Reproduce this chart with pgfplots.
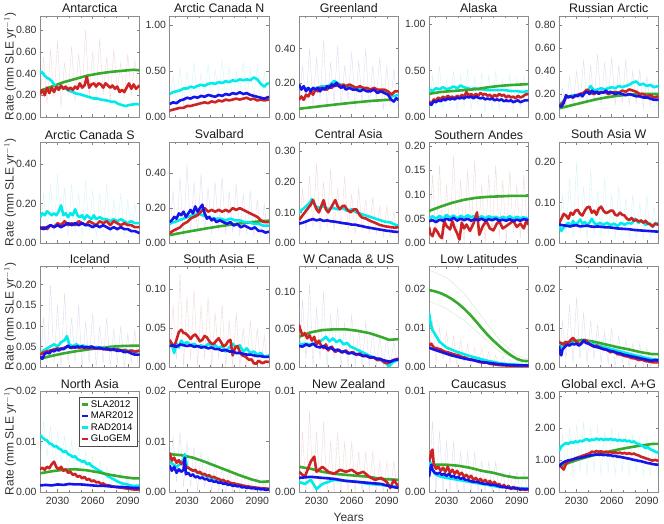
\documentclass[border=0pt]{standalone}
\usepackage{fontspec}
\setmainfont{Liberation Sans}
\usepackage{pgfplots}
\pgfplotsset{compat=1.18}
\definecolor{cSLA}{RGB}{55,170,45}
\definecolor{cMAR}{RGB}{20,20,235}
\definecolor{cRAD}{RGB}{0,235,235}
\definecolor{cGLO}{RGB}{205,35,35}
\definecolor{fBlue}{RGB}{120,130,190}
\definecolor{fRed}{RGB}{200,110,110}
\definecolor{fCyan}{RGB}{90,210,220}
\newcommand{\pSLA}[1]{\addplot[cSLA,line width=2.6pt,line join=round,forget plot] coordinates {#1};}
\newcommand{\pMAR}[1]{\addplot[cMAR,line width=2.6pt,line join=round,forget plot] coordinates {#1};}
\newcommand{\pRAD}[1]{\addplot[cRAD,line width=2.6pt,line join=round,forget plot] coordinates {#1};}
\newcommand{\pGLO}[1]{\addplot[cGLO,line width=2.6pt,line join=round,forget plot] coordinates {#1};}
\newcommand{\pF}[2]{\addplot[#1,opacity=0.25,line width=0.4pt,forget plot] coordinates {#2};}
\pgfplotsset{
 panel/.style={scale only axis, width=99.5pt, height=101pt, anchor=north west,
  xmin=2015, xmax=2100, ymin=0,
  xtick={2030,2060,2090}, minor xtick={2020,2040,2050,2070,2080,2100}, xticklabels={},
  tick align=inside, major tick length=3pt, minor tick length=2pt,
  axis line style={draw=black!45, line width=0.6pt},
  every tick/.style={black!50, line width=0.5pt},
  tick label style={font=\fontsize{10.5}{12}\selectfont, text=black!80},
  yticklabel style={/pgf/number format/.cd, fixed, fixed zerofill, precision=2},
  /pgf/number format/assume math mode=true, scaled y ticks=false,
  title style={at={(0.5,1)}, anchor=base, yshift=-3pt, font=\fontsize{12.4}{14}\selectfont, inner sep=0pt, text=black!90}},
 bottomrow/.style={xticklabels={2030,2060,2090}, xticklabel style={yshift=-1.5pt}},
 firstcol/.style={ylabel={Rate (mm SLE yr$^{-1}$)}, ylabel style={at={(axis description cs:-0.30,0.5)}, anchor=center, font=\fontsize{12}{14}\selectfont, text=black!80}},
}
\begin{document}
\begin{tikzpicture}
\path[use as bounding box] (0,0) rectangle (664pt,-524pt);
% ---------------- Row 1
\begin{axis}[panel, firstcol, at={(40pt,-16pt)}, title={Antarctica}, ymax=0.93, ytick={0,0.2,0.4,0.6,0.8}]
\pF{fRed}{(2015,0.15)(2018,0.55)(2021,0.12)(2024,0.62)(2027,0.18)(2030,0.70)(2033,0.10)(2036,0.50)(2039,0.20)(2042,0.65)(2045,0.15)(2048,0.58)(2051,0.25)(2054,0.80)(2057,0.18)(2060,0.60)(2063,0.22)(2066,0.72)(2069,0.20)(2072,0.55)(2075,0.15)(2078,0.62)(2081,0.25)(2084,0.50)(2087,0.18)(2090,0.58)(2093,0.20)(2096,0.52)(2099,0.22)}
\pSLA{(2015,0.24)(2025,0.28)(2035,0.32)(2045,0.35)(2055,0.38)(2065,0.40)(2075,0.415)(2085,0.425)(2095,0.435)(2100,0.43)}
\pRAD{(2015,0.42)(2017,0.41)(2019,0.38)(2021,0.36)(2023,0.35)(2025,0.33)(2027,0.30)(2029,0.28)(2031,0.27)(2034,0.27)(2037,0.26)(2040,0.24)(2043,0.23)(2046,0.215)(2049,0.21)(2052,0.20)(2055,0.19)(2058,0.18)(2061,0.17)(2064,0.17)(2067,0.16)(2070,0.155)(2073,0.15)(2076,0.14)(2079,0.14)(2082,0.12)(2085,0.11)(2088,0.10)(2091,0.11)(2094,0.115)(2097,0.12)(2100,0.115)}
\pGLO{(2015,0.21)(2017,0.25)(2019,0.20)(2021,0.27)(2023,0.22)(2025,0.27)(2027,0.23)(2029,0.28)(2031,0.25)(2033,0.29)(2035,0.26)(2037,0.28)(2039,0.25)(2041,0.27)(2043,0.25)(2045,0.28)(2047,0.26)(2049,0.31)(2051,0.27)(2053,0.29)(2055,0.37)(2057,0.27)(2059,0.30)(2061,0.31)(2063,0.28)(2065,0.31)(2067,0.30)(2069,0.27)(2071,0.31)(2073,0.29)(2075,0.27)(2077,0.29)(2079,0.26)(2081,0.28)(2083,0.23)(2085,0.25)(2087,0.23)(2089,0.27)(2091,0.31)(2093,0.26)(2095,0.30)(2097,0.26)(2100,0.29)}
\end{axis}
\begin{axis}[panel, at={(169.5pt,-16pt)}, title={Arctic Canada N}, ymax=1.1, ytick={0,0.5,1}]
\pF{fCyan}{(2015,0.10)(2018,0.45)(2021,0.15)(2024,0.55)(2027,0.12)(2030,0.50)(2033,0.20)(2036,0.60)(2039,0.15)(2042,0.48)(2045,0.22)(2048,0.58)(2051,0.18)(2054,0.52)(2057,0.25)(2060,0.62)(2063,0.20)(2066,0.55)(2069,0.15)(2072,0.50)(2075,0.25)(2078,0.60)(2081,0.18)(2084,0.52)(2087,0.22)(2090,0.55)(2093,0.15)(2096,0.48)(2099,0.25)}
\pRAD{(2015,0.25)(2018,0.27)(2021,0.28)(2024,0.29)(2027,0.31)(2030,0.31)(2033,0.33)(2036,0.32)(2039,0.34)(2042,0.35)(2045,0.34)(2048,0.36)(2051,0.37)(2054,0.36)(2057,0.38)(2060,0.37)(2063,0.39)(2066,0.38)(2069,0.40)(2072,0.39)(2075,0.41)(2078,0.40)(2081,0.41)(2084,0.40)(2087,0.43)(2090,0.41)(2093,0.36)(2096,0.33)(2098,0.36)(2100,0.37)}
\pGLO{(2015,0.07)(2018,0.08)(2021,0.09)(2024,0.10)(2027,0.10)(2030,0.12)(2033,0.12)(2036,0.13)(2039,0.14)(2042,0.15)(2045,0.16)(2048,0.15)(2051,0.17)(2054,0.16)(2057,0.18)(2060,0.17)(2063,0.19)(2066,0.18)(2069,0.19)(2072,0.20)(2075,0.19)(2078,0.20)(2081,0.21)(2084,0.19)(2087,0.20)(2090,0.18)(2093,0.19)(2096,0.18)(2100,0.19)}
\pMAR{(2015,0.14)(2018,0.16)(2021,0.15)(2024,0.18)(2027,0.19)(2030,0.21)(2033,0.20)(2036,0.22)(2039,0.21)(2042,0.23)(2045,0.22)(2048,0.24)(2051,0.23)(2054,0.22)(2057,0.24)(2060,0.23)(2063,0.25)(2066,0.24)(2069,0.26)(2072,0.25)(2075,0.27)(2078,0.25)(2081,0.26)(2084,0.24)(2087,0.23)(2090,0.22)(2093,0.21)(2096,0.20)(2100,0.22)}
\end{axis}
\begin{axis}[panel, at={(299pt,-16pt)}, title={Greenland}, ymax=0.59, ytick={0,0.2,0.4}]
\pF{fBlue}{(2015,0.05)(2018,0.30)(2021,0.08)(2024,0.40)(2027,0.06)(2030,0.35)(2033,0.10)(2036,0.45)(2039,0.05)(2042,0.32)(2045,0.08)(2048,0.42)(2051,0.06)(2054,0.30)(2057,0.10)(2060,0.38)(2063,0.05)(2066,0.33)(2069,0.08)(2072,0.40)(2075,0.06)(2078,0.30)(2081,0.10)(2084,0.35)(2087,0.04)(2090,0.30)(2093,0.06)(2096,0.28)(2099,0.05)}
\pSLA{(2015,0.048)(2030,0.060)(2045,0.072)(2060,0.083)(2075,0.093)(2090,0.100)(2093,0.101)}
\pRAD{(2015,0.17)(2020,0.17)(2025,0.16)(2030,0.17)(2035,0.18)(2040,0.18)(2045,0.21)(2050,0.19)(2055,0.18)(2060,0.17)(2065,0.17)(2070,0.16)(2075,0.16)(2080,0.16)(2085,0.15)(2090,0.15)(2095,0.12)(2100,0.13)}
\pGLO{(2015,0.10)(2017,0.12)(2019,0.10)(2021,0.13)(2023,0.12)(2025,0.15)(2027,0.13)(2029,0.16)(2031,0.15)(2033,0.17)(2035,0.16)(2037,0.17)(2039,0.16)(2041,0.18)(2043,0.17)(2045,0.19)(2047,0.18)(2049,0.19)(2051,0.18)(2053,0.19)(2055,0.18)(2058,0.19)(2061,0.18)(2064,0.17)(2067,0.18)(2070,0.17)(2073,0.17)(2076,0.16)(2079,0.17)(2082,0.16)(2085,0.16)(2088,0.16)(2091,0.15)(2094,0.13)(2097,0.15)(2100,0.15)}
\pMAR{(2015,0.19)(2017,0.16)(2019,0.18)(2021,0.15)(2023,0.17)(2025,0.15)(2027,0.17)(2029,0.16)(2031,0.17)(2033,0.15)(2035,0.17)(2037,0.16)(2039,0.18)(2041,0.17)(2043,0.19)(2045,0.18)(2047,0.20)(2049,0.18)(2051,0.17)(2053,0.18)(2055,0.16)(2058,0.17)(2061,0.16)(2064,0.16)(2067,0.15)(2070,0.16)(2073,0.15)(2076,0.15)(2079,0.16)(2082,0.14)(2085,0.15)(2088,0.14)(2091,0.13)(2094,0.10)(2096,0.09)(2098,0.11)(2100,0.10)}
\end{axis}
\begin{axis}[panel, at={(429pt,-16pt)}, title={Alaska}, ymax=1.09, ytick={0,0.5,1}]
\pF{fCyan}{(2015,0.05)(2018,0.45)(2021,0.10)(2024,0.55)(2027,0.08)(2030,0.40)(2033,0.12)(2036,0.50)(2039,0.06)(2042,0.45)(2045,0.10)(2048,0.52)(2051,0.08)(2054,0.42)(2057,0.12)(2060,0.48)(2063,0.05)(2066,0.45)(2069,0.10)(2072,0.50)(2075,0.08)(2078,0.40)(2081,0.12)(2084,0.46)(2087,0.06)(2090,0.42)(2093,0.10)(2096,0.44)(2099,0.08)}
\pRAD{(2015,0.30)(2018,0.28)(2021,0.31)(2024,0.30)(2027,0.32)(2030,0.30)(2033,0.31)(2036,0.33)(2039,0.31)(2042,0.34)(2045,0.32)(2048,0.31)(2051,0.30)(2054,0.31)(2057,0.30)(2060,0.30)(2065,0.29)(2070,0.29)(2075,0.29)(2080,0.29)(2085,0.28)(2090,0.28)(2095,0.27)(2100,0.28)}
\pSLA{(2015,0.25)(2025,0.27)(2035,0.28)(2045,0.29)(2055,0.30)(2065,0.32)(2075,0.335)(2085,0.345)(2100,0.355)}
\pGLO{(2015,0.17)(2017,0.14)(2019,0.19)(2021,0.18)(2023,0.21)(2025,0.19)(2027,0.22)(2029,0.20)(2031,0.23)(2033,0.21)(2035,0.22)(2037,0.20)(2039,0.23)(2041,0.21)(2043,0.24)(2045,0.22)(2047,0.27)(2049,0.23)(2051,0.25)(2053,0.22)(2055,0.25)(2057,0.23)(2059,0.26)(2061,0.24)(2063,0.25)(2065,0.23)(2067,0.24)(2069,0.21)(2071,0.24)(2073,0.22)(2075,0.25)(2077,0.23)(2079,0.24)(2081,0.21)(2083,0.23)(2085,0.21)(2087,0.22)(2089,0.20)(2091,0.23)(2093,0.21)(2095,0.22)(2097,0.24)(2100,0.25)}
\pMAR{(2015,0.15)(2017,0.13)(2019,0.17)(2021,0.16)(2023,0.18)(2025,0.17)(2027,0.19)(2029,0.18)(2031,0.20)(2033,0.19)(2035,0.20)(2037,0.19)(2039,0.21)(2041,0.20)(2043,0.21)(2045,0.20)(2047,0.22)(2049,0.21)(2051,0.22)(2053,0.20)(2055,0.22)(2057,0.21)(2059,0.20)(2061,0.21)(2063,0.19)(2065,0.20)(2067,0.19)(2069,0.20)(2071,0.18)(2073,0.19)(2075,0.18)(2077,0.19)(2079,0.17)(2081,0.18)(2083,0.17)(2085,0.18)(2087,0.16)(2089,0.17)(2091,0.18)(2093,0.16)(2095,0.17)(2097,0.18)(2100,0.18)}
\end{axis}
\begin{axis}[panel, at={(559pt,-16pt)}, title={Russian Arctic}, ymax=0.88, ytick={0,0.2,0.4,0.6,0.8}]
\pF{fBlue}{(2015,0.05)(2018,0.25)(2021,0.08)(2024,0.35)(2027,0.10)(2030,0.40)(2033,0.12)(2036,0.50)(2039,0.10)(2042,0.45)(2045,0.12)(2048,0.55)(2051,0.10)(2054,0.48)(2057,0.15)(2060,0.52)(2063,0.10)(2066,0.45)(2069,0.12)(2072,0.50)(2075,0.10)(2078,0.40)(2081,0.12)(2084,0.42)(2087,0.08)(2090,0.35)(2093,0.10)(2096,0.30)(2099,0.08)}
\pSLA{(2015,0.075)(2025,0.10)(2035,0.125)(2045,0.15)(2055,0.17)(2065,0.185)(2075,0.195)(2085,0.20)(2100,0.20)}
\pRAD{(2015,0.10)(2018,0.13)(2021,0.17)(2024,0.18)(2027,0.19)(2030,0.19)(2033,0.20)(2036,0.20)(2039,0.22)(2042,0.27)(2045,0.23)(2048,0.24)(2051,0.25)(2054,0.24)(2057,0.25)(2060,0.26)(2063,0.25)(2066,0.27)(2069,0.26)(2072,0.27)(2075,0.28)(2078,0.30)(2081,0.31)(2084,0.28)(2087,0.29)(2090,0.27)(2093,0.28)(2096,0.26)(2100,0.27)}
\pGLO{(2015,0.10)(2018,0.12)(2021,0.17)(2024,0.18)(2027,0.17)(2030,0.19)(2033,0.20)(2036,0.21)(2039,0.24)(2042,0.21)(2045,0.20)(2048,0.22)(2051,0.21)(2054,0.22)(2057,0.20)(2060,0.21)(2063,0.22)(2066,0.21)(2069,0.23)(2072,0.22)(2075,0.24)(2078,0.23)(2081,0.22)(2084,0.20)(2087,0.20)(2090,0.18)(2093,0.19)(2096,0.17)(2100,0.18)}
\pMAR{(2015,0.10)(2017,0.09)(2019,0.12)(2021,0.19)(2023,0.17)(2025,0.18)(2027,0.17)(2029,0.19)(2031,0.18)(2033,0.20)(2035,0.18)(2037,0.21)(2039,0.22)(2041,0.20)(2043,0.23)(2045,0.21)(2047,0.22)(2049,0.20)(2051,0.22)(2053,0.21)(2055,0.23)(2057,0.21)(2059,0.22)(2061,0.21)(2063,0.20)(2066,0.21)(2069,0.20)(2072,0.19)(2075,0.20)(2078,0.19)(2081,0.18)(2084,0.18)(2087,0.17)(2090,0.17)(2093,0.16)(2096,0.15)(2100,0.15)}
\end{axis}
% ---------------- Row 2
\begin{axis}[panel, firstcol, at={(40pt,-142pt)}, title={Arctic Canada S}, ymax=0.51, ytick={0,0.2,0.4}]
\pF{fCyan}{(2015,0.03)(2018,0.25)(2021,0.05)(2024,0.30)(2027,0.04)(2030,0.35)(2033,0.06)(2036,0.28)(2039,0.03)(2042,0.30)(2045,0.05)(2048,0.25)(2051,0.04)(2054,0.32)(2057,0.05)(2060,0.27)(2063,0.03)(2066,0.25)(2069,0.05)(2072,0.30)(2075,0.04)(2078,0.22)(2081,0.05)(2084,0.25)(2087,0.03)(2090,0.22)(2093,0.04)(2096,0.20)(2099,0.03)}
\pRAD{(2015,0.13)(2017,0.15)(2019,0.14)(2021,0.16)(2023,0.15)(2025,0.14)(2027,0.15)(2029,0.14)(2031,0.16)(2033,0.19)(2035,0.14)(2037,0.15)(2039,0.13)(2041,0.15)(2043,0.14)(2045,0.17)(2047,0.14)(2049,0.13)(2051,0.14)(2053,0.12)(2055,0.14)(2057,0.13)(2059,0.12)(2061,0.14)(2063,0.12)(2066,0.13)(2069,0.12)(2072,0.12)(2075,0.11)(2078,0.12)(2081,0.11)(2084,0.12)(2087,0.11)(2090,0.10)(2093,0.11)(2096,0.10)(2100,0.10)}
\pGLO{(2015,0.07)(2018,0.08)(2021,0.07)(2024,0.09)(2027,0.08)(2030,0.10)(2033,0.09)(2036,0.11)(2039,0.09)(2042,0.10)(2045,0.09)(2048,0.11)(2051,0.10)(2054,0.09)(2057,0.11)(2060,0.10)(2063,0.09)(2066,0.11)(2069,0.10)(2072,0.11)(2075,0.09)(2078,0.11)(2081,0.10)(2084,0.09)(2087,0.10)(2090,0.09)(2093,0.09)(2096,0.08)(2100,0.08)}
\pMAR{(2015,0.08)(2018,0.07)(2021,0.08)(2024,0.09)(2027,0.08)(2030,0.09)(2033,0.08)(2036,0.09)(2039,0.10)(2042,0.09)(2045,0.10)(2048,0.09)(2051,0.10)(2054,0.09)(2057,0.09)(2060,0.08)(2063,0.09)(2066,0.08)(2069,0.09)(2072,0.08)(2075,0.07)(2078,0.08)(2081,0.07)(2084,0.08)(2087,0.07)(2090,0.07)(2093,0.06)(2096,0.06)(2100,0.05)}
\end{axis}
\begin{axis}[panel, at={(169.5pt,-142pt)}, title={Svalbard}, ymax=0.58, ytick={0,0.2,0.4}]
\pF{fBlue}{(2015,0.02)(2018,0.30)(2021,0.05)(2024,0.38)(2027,0.04)(2030,0.45)(2033,0.06)(2036,0.35)(2039,0.05)(2042,0.40)(2045,0.06)(2048,0.32)(2051,0.05)(2054,0.35)(2057,0.07)(2060,0.38)(2063,0.05)(2066,0.30)(2069,0.06)(2072,0.34)(2075,0.04)(2078,0.28)(2081,0.05)(2084,0.30)(2087,0.04)(2090,0.25)(2093,0.04)(2096,0.22)(2099,0.03)}
\pSLA{(2015,0.045)(2025,0.058)(2035,0.07)(2045,0.082)(2055,0.093)(2065,0.103)(2075,0.112)(2085,0.12)(2095,0.126)(2100,0.128)}
\pRAD{(2015,0.11)(2019,0.12)(2023,0.13)(2027,0.14)(2031,0.15)(2035,0.16)(2039,0.17)(2043,0.16)(2047,0.15)(2051,0.14)(2055,0.14)(2059,0.14)(2063,0.13)(2067,0.14)(2071,0.13)(2075,0.13)(2079,0.12)(2083,0.12)(2087,0.11)(2091,0.11)(2095,0.10)(2100,0.10)}
\pGLO{(2015,0.055)(2018,0.07)(2021,0.08)(2024,0.09)(2027,0.11)(2030,0.12)(2033,0.14)(2036,0.15)(2039,0.16)(2042,0.18)(2045,0.20)(2048,0.18)(2051,0.19)(2054,0.18)(2057,0.19)(2060,0.18)(2063,0.19)(2066,0.18)(2069,0.20)(2072,0.19)(2075,0.20)(2078,0.19)(2081,0.18)(2084,0.17)(2087,0.16)(2090,0.15)(2093,0.13)(2096,0.12)(2100,0.12)}
\pMAR{(2015,0.12)(2017,0.13)(2019,0.15)(2021,0.14)(2023,0.17)(2025,0.16)(2027,0.18)(2029,0.15)(2031,0.17)(2033,0.19)(2035,0.17)(2037,0.21)(2039,0.18)(2041,0.20)(2043,0.22)(2045,0.17)(2047,0.14)(2049,0.15)(2051,0.13)(2053,0.14)(2055,0.12)(2058,0.13)(2061,0.12)(2064,0.11)(2067,0.12)(2070,0.10)(2073,0.11)(2076,0.09)(2079,0.10)(2082,0.09)(2085,0.08)(2088,0.09)(2091,0.07)(2094,0.07)(2097,0.06)(2100,0.065)}
\end{axis}
\begin{axis}[panel, at={(299pt,-142pt)}, title={Central Asia}, ymax=0.33, ytick={0,0.1,0.2,0.3}]
\pF{fRed}{(2015,0.03)(2018,0.18)(2021,0.04)(2024,0.22)(2027,0.05)(2030,0.26)(2033,0.04)(2036,0.20)(2039,0.05)(2042,0.24)(2045,0.04)(2048,0.18)(2051,0.05)(2054,0.22)(2057,0.04)(2060,0.16)(2063,0.03)(2066,0.18)(2069,0.04)(2072,0.14)(2075,0.03)(2078,0.15)(2081,0.03)(2084,0.12)(2087,0.02)(2090,0.12)(2093,0.02)(2096,0.10)(2099,0.02)}
\pRAD{(2015,0.10)(2018,0.11)(2021,0.12)(2024,0.13)(2026,0.144)(2029,0.12)(2032,0.115)(2036,0.12)(2040,0.11)(2044,0.115)(2048,0.11)(2052,0.115)(2056,0.105)(2060,0.11)(2064,0.10)(2068,0.095)(2072,0.09)(2076,0.085)(2080,0.08)(2084,0.075)(2088,0.07)(2093,0.067)(2097,0.06)(2100,0.056)}
\pGLO{(2015,0.075)(2018,0.09)(2022,0.11)(2025,0.125)(2027,0.14)(2030,0.11)(2032,0.10)(2034,0.12)(2036,0.14)(2038,0.11)(2040,0.10)(2043,0.12)(2046,0.14)(2048,0.12)(2050,0.11)(2052,0.12)(2054,0.122)(2056,0.11)(2059,0.10)(2062,0.11)(2064,0.11)(2067,0.09)(2069,0.083)(2072,0.08)(2076,0.072)(2080,0.066)(2084,0.059)(2088,0.055)(2093,0.052)(2097,0.05)(2100,0.052)}
\pMAR{(2015,0.063)(2018,0.066)(2021,0.07)(2024,0.075)(2027,0.078)(2030,0.074)(2033,0.077)(2036,0.072)(2039,0.074)(2042,0.071)(2045,0.07)(2048,0.068)(2051,0.066)(2054,0.064)(2057,0.063)(2060,0.06)(2063,0.06)(2066,0.057)(2069,0.055)(2072,0.052)(2075,0.05)(2078,0.048)(2081,0.046)(2084,0.044)(2087,0.042)(2090,0.04)(2093,0.039)(2096,0.037)(2100,0.036)}
\end{axis}
\begin{axis}[panel, at={(429pt,-142pt)}, title={Southern Andes}, ymax=0.208, ytick={0,0.05,0.1,0.15,0.2}]
\pF{fRed}{(2015,0.0)(2018,0.14)(2021,0.01)(2024,0.16)(2027,0.0)(2030,0.12)(2033,0.02)(2036,0.18)(2039,0.01)(2042,0.13)(2045,0.0)(2048,0.15)(2051,0.02)(2054,0.17)(2057,0.01)(2060,0.12)(2063,0.0)(2066,0.14)(2069,0.02)(2072,0.16)(2075,0.01)(2078,0.13)(2081,0.0)(2084,0.15)(2087,0.02)(2090,0.12)(2093,0.01)(2096,0.14)(2099,0.02)}
\pSLA{(2015,0.066)(2025,0.075)(2035,0.083)(2045,0.089)(2055,0.093)(2065,0.095)(2075,0.096)(2085,0.097)(2100,0.097)}
\pRAD{(2015,0.05)(2018,0.055)(2021,0.05)(2024,0.056)(2027,0.05)(2030,0.058)(2033,0.052)(2036,0.057)(2039,0.05)(2042,0.056)(2045,0.052)(2048,0.057)(2051,0.053)(2054,0.056)(2057,0.052)(2060,0.055)(2063,0.051)(2066,0.055)(2069,0.052)(2072,0.054)(2075,0.05)(2078,0.054)(2081,0.051)(2084,0.055)(2087,0.05)(2090,0.054)(2093,0.051)(2096,0.053)(2100,0.05)}
\pGLO{(2015,0.033)(2016,0.02)(2018,0.014)(2020,0.03)(2022,0.024)(2024,0.015)(2026,0.01)(2028,0.045)(2030,0.035)(2033,0.028)(2035,0.045)(2037,0.03)(2039,0.02)(2041,0.007)(2043,0.042)(2045,0.03)(2047,0.038)(2050,0.025)(2053,0.04)(2056,0.063)(2058,0.017)(2061,0.035)(2064,0.045)(2067,0.03)(2070,0.026)(2073,0.04)(2075,0.045)(2078,0.03)(2081,0.035)(2084,0.04)(2087,0.046)(2090,0.033)(2093,0.04)(2096,0.03)(2098,0.045)(2100,0.038)}
\pMAR{(2015,0.045)(2018,0.047)(2021,0.043)(2024,0.048)(2027,0.046)(2030,0.05)(2033,0.047)(2036,0.052)(2039,0.046)(2042,0.05)(2045,0.047)(2048,0.05)(2051,0.046)(2054,0.049)(2057,0.047)(2060,0.05)(2063,0.046)(2066,0.049)(2069,0.047)(2072,0.05)(2075,0.046)(2078,0.048)(2081,0.046)(2084,0.049)(2087,0.045)(2090,0.048)(2093,0.046)(2096,0.049)(2100,0.047)}
\end{axis}
\begin{axis}[panel, at={(559pt,-142pt)}, title={South Asia W}, ymax=0.25, ytick={0,0.1,0.2}]
\pF{fCyan}{(2015,0.01)(2018,0.12)(2021,0.02)(2024,0.16)(2027,0.01)(2030,0.20)(2033,0.02)(2036,0.14)(2039,0.01)(2042,0.18)(2045,0.02)(2048,0.13)(2051,0.01)(2054,0.16)(2057,0.02)(2060,0.12)(2063,0.01)(2066,0.14)(2069,0.02)(2072,0.11)(2075,0.01)(2078,0.12)(2081,0.01)(2084,0.10)(2087,0.01)(2090,0.12)(2093,0.01)(2096,0.09)(2099,0.01)}
\pRAD{(2015,0.045)(2017,0.03)(2019,0.038)(2021,0.045)(2023,0.05)(2025,0.04)(2027,0.055)(2029,0.045)(2031,0.05)(2033,0.058)(2035,0.048)(2037,0.052)(2039,0.045)(2041,0.05)(2043,0.06)(2045,0.05)(2047,0.045)(2050,0.05)(2053,0.045)(2056,0.05)(2059,0.044)(2062,0.048)(2065,0.042)(2068,0.05)(2071,0.045)(2074,0.05)(2077,0.048)(2080,0.06)(2083,0.05)(2086,0.055)(2089,0.045)(2092,0.05)(2095,0.04)(2098,0.05)(2100,0.045)}
\pGLO{(2015,0.048)(2017,0.06)(2019,0.072)(2021,0.068)(2023,0.06)(2025,0.075)(2027,0.07)(2029,0.08)(2031,0.082)(2033,0.072)(2035,0.068)(2037,0.08)(2039,0.088)(2041,0.09)(2043,0.075)(2045,0.08)(2047,0.07)(2049,0.085)(2051,0.09)(2053,0.08)(2055,0.074)(2057,0.076)(2059,0.08)(2061,0.08)(2063,0.07)(2065,0.068)(2067,0.075)(2069,0.07)(2071,0.068)(2073,0.06)(2075,0.057)(2077,0.062)(2079,0.055)(2081,0.058)(2083,0.053)(2085,0.056)(2087,0.05)(2089,0.055)(2091,0.048)(2093,0.046)(2095,0.041)(2097,0.048)(2100,0.045)}
\pMAR{(2015,0.046)(2018,0.044)(2021,0.043)(2024,0.041)(2027,0.043)(2030,0.044)(2033,0.041)(2036,0.042)(2039,0.043)(2042,0.041)(2045,0.04)(2048,0.041)(2051,0.04)(2054,0.039)(2057,0.039)(2060,0.038)(2065,0.036)(2070,0.035)(2075,0.034)(2080,0.032)(2085,0.031)(2090,0.03)(2095,0.029)(2100,0.028)}
\end{axis}
% ---------------- Row 3
\begin{axis}[panel, firstcol, at={(40pt,-266pt)}, title={Iceland}, ymax=0.245, ytick={0,0.05,0.1,0.15,0.2}]
\pF{fBlue}{(2015,0.0)(2018,0.12)(2021,0.01)(2024,0.20)(2027,0.01)(2030,0.15)(2033,0.0)(2036,0.18)(2039,0.01)(2042,0.12)(2045,0.01)(2048,0.15)(2051,0.0)(2054,0.11)(2057,0.01)(2060,0.13)(2063,0.0)(2066,0.10)(2069,0.01)(2072,0.12)(2075,0.0)(2078,0.09)(2081,0.01)(2084,0.10)(2087,0.0)(2090,0.08)(2093,0.01)(2096,0.09)(2099,0.0)}
\pSLA{(2015,0.02)(2025,0.027)(2035,0.033)(2045,0.038)(2055,0.042)(2065,0.046)(2075,0.049)(2085,0.051)(2100,0.052)}
\pRAD{(2015,0.03)(2018,0.04)(2021,0.045)(2024,0.05)(2027,0.055)(2030,0.05)(2033,0.06)(2036,0.065)(2038,0.075)(2040,0.055)(2043,0.05)(2046,0.055)(2049,0.05)(2052,0.052)(2055,0.048)(2058,0.05)(2061,0.047)(2064,0.049)(2067,0.045)(2070,0.047)(2073,0.043)(2076,0.045)(2079,0.042)(2082,0.044)(2085,0.04)(2088,0.042)(2091,0.038)(2094,0.04)(2097,0.036)(2100,0.04)}
\pGLO{(2015,0.03)(2018,0.035)(2021,0.038)(2024,0.04)(2027,0.043)(2030,0.045)(2033,0.043)(2036,0.047)(2039,0.05)(2042,0.046)(2045,0.049)(2048,0.047)(2051,0.048)(2054,0.045)(2057,0.047)(2060,0.045)(2063,0.046)(2066,0.044)(2069,0.045)(2072,0.042)(2075,0.044)(2078,0.041)(2081,0.043)(2084,0.04)(2087,0.041)(2090,0.038)(2093,0.04)(2096,0.037)(2100,0.04)}
\pMAR{(2015,0.025)(2017,0.02)(2019,0.032)(2021,0.035)(2023,0.033)(2025,0.04)(2027,0.038)(2029,0.042)(2031,0.04)(2033,0.045)(2035,0.043)(2037,0.047)(2039,0.052)(2041,0.046)(2043,0.049)(2045,0.047)(2047,0.05)(2049,0.048)(2051,0.05)(2053,0.047)(2055,0.049)(2057,0.046)(2059,0.05)(2061,0.047)(2063,0.045)(2066,0.047)(2069,0.043)(2072,0.045)(2075,0.041)(2078,0.043)(2081,0.039)(2084,0.04)(2087,0.036)(2090,0.037)(2093,0.033)(2096,0.03)(2100,0.03)}
\end{axis}
\begin{axis}[panel, at={(169.5pt,-266pt)}, title={South Asia E}, ymax=0.13, ytick={0,0.05,0.1}]
\pF{fRed}{(2015,0.0)(2018,0.08)(2021,0.01)(2024,0.12)(2027,0.0)(2030,0.09)(2033,0.01)(2036,0.10)(2039,0.0)(2042,0.08)(2045,0.01)(2048,0.09)(2051,0.0)(2054,0.07)(2057,0.01)(2060,0.08)(2063,0.0)(2066,0.06)(2069,0.0)(2072,0.07)(2075,0.0)(2078,0.05)(2081,0.0)(2084,0.06)(2087,0.0)(2090,0.05)(2093,0.0)(2096,0.04)(2099,0.0)}
\pRAD{(2015,0.03)(2017,0.028)(2019,0.018)(2021,0.03)(2023,0.025)(2025,0.034)(2027,0.03)(2030,0.032)(2033,0.028)(2036,0.03)(2039,0.026)(2042,0.028)(2045,0.025)(2048,0.03)(2051,0.027)(2054,0.028)(2057,0.024)(2060,0.027)(2063,0.02)(2066,0.025)(2069,0.03)(2072,0.025)(2075,0.028)(2078,0.02)(2081,0.024)(2084,0.018)(2087,0.02)(2090,0.016)(2093,0.018)(2096,0.013)(2100,0.015)}
\pGLO{(2015,0.035)(2017,0.03)(2019,0.026)(2021,0.035)(2023,0.045)(2025,0.048)(2027,0.044)(2029,0.043)(2031,0.04)(2033,0.036)(2035,0.04)(2037,0.042)(2039,0.038)(2041,0.033)(2043,0.035)(2045,0.04)(2047,0.038)(2049,0.033)(2051,0.03)(2053,0.03)(2055,0.034)(2057,0.037)(2059,0.032)(2061,0.027)(2063,0.028)(2065,0.033)(2067,0.035)(2069,0.015)(2071,0.025)(2073,0.027)(2075,0.02)(2077,0.015)(2079,0.014)(2081,0.012)(2083,0.009)(2085,0.01)(2087,0.005)(2089,0.004)(2091,0.008)(2093,0.006)(2095,0.005)(2097,0.007)(2100,0.0065)}
\pMAR{(2015,0.027)(2018,0.028)(2021,0.026)(2024,0.029)(2027,0.028)(2030,0.027)(2033,0.028)(2036,0.026)(2039,0.027)(2042,0.025)(2045,0.026)(2048,0.024)(2051,0.025)(2054,0.023)(2057,0.023)(2060,0.021)(2063,0.022)(2066,0.02)(2069,0.02)(2072,0.018)(2075,0.018)(2078,0.017)(2081,0.016)(2084,0.016)(2087,0.015)(2090,0.014)(2093,0.014)(2096,0.013)(2100,0.013)}
\end{axis}
\begin{axis}[panel, at={(299pt,-266pt)}, title={W Canada \& US}, ymax=0.134, ytick={0,0.05,0.1}]
\pF{fBlue}{(2015,0.0)(2018,0.09)(2021,0.01)(2024,0.11)(2027,0.0)(2030,0.08)(2033,0.01)(2036,0.10)(2039,0.0)(2042,0.07)(2045,0.01)(2048,0.08)(2051,0.0)(2054,0.06)(2057,0.0)(2060,0.07)(2063,0.0)(2066,0.05)(2069,0.0)(2072,0.06)(2075,0.0)(2078,0.05)(2081,0.0)(2084,0.04)(2087,0.0)(2090,0.04)(2093,0.0)(2096,0.035)(2099,0.0)}
\pSLA{(2015,0.04)(2025,0.046)(2035,0.049)(2045,0.05)(2055,0.05)(2065,0.048)(2075,0.045)(2085,0.04)(2092,0.036)(2100,0.037)}
\pRAD{(2015,0.03)(2020,0.031)(2025,0.03)(2030,0.032)(2035,0.036)(2038,0.04)(2041,0.034)(2044,0.038)(2047,0.033)(2050,0.036)(2053,0.03)(2056,0.032)(2059,0.027)(2062,0.025)(2066,0.022)(2070,0.019)(2074,0.016)(2078,0.013)(2082,0.011)(2086,0.008)(2089,0.005)(2092,0.001)(2095,0.006)(2100,0.01)}
\pGLO{(2015,0.056)(2016,0.05)(2018,0.042)(2020,0.045)(2022,0.038)(2024,0.042)(2026,0.035)(2028,0.04)(2030,0.03)(2032,0.035)(2034,0.028)(2036,0.025)(2038,0.03)(2040,0.022)(2043,0.027)(2046,0.02)(2049,0.023)(2052,0.019)(2055,0.022)(2058,0.018)(2061,0.02)(2064,0.016)(2067,0.018)(2070,0.014)(2073,0.015)(2076,0.012)(2079,0.013)(2082,0.009)(2085,0.01)(2088,0.006)(2091,0.005)(2094,0.008)(2097,0.01)(2100,0.011)}
\pMAR{(2015,0.028)(2018,0.027)(2021,0.03)(2024,0.028)(2027,0.031)(2030,0.027)(2033,0.026)(2036,0.028)(2039,0.024)(2042,0.026)(2045,0.022)(2048,0.023)(2051,0.02)(2054,0.021)(2057,0.018)(2060,0.019)(2063,0.017)(2066,0.017)(2069,0.015)(2072,0.015)(2075,0.013)(2078,0.013)(2081,0.011)(2084,0.011)(2087,0.009)(2090,0.008)(2093,0.007)(2096,0.009)(2100,0.01)}
\end{axis}
\begin{axis}[panel, at={(429pt,-266pt)}, title={Low Latitudes}, ymax=0.026, ytick={0,0.01,0.02}]
\pF{fRed}{(2015,0.002)(2018,0.012)(2021,0.001)(2024,0.01)(2027,0.002)(2030,0.009)(2033,0.001)(2036,0.008)(2039,0.0)(2042,0.007)(2045,0.001)(2048,0.006)(2051,0.0)(2054,0.005)(2057,0.001)(2060,0.005)(2063,0.0)(2066,0.004)(2069,0.0)(2072,0.003)(2075,0.0)(2078,0.003)(2081,0.0)(2084,0.002)(2087,0.0)(2090,0.002)(2093,0.0)(2096,0.002)(2099,0.0)}
\pF{cSLA}{(2015,0.025)(2030,0.023)(2045,0.019)(2060,0.013)(2075,0.007)(2090,0.003)(2100,0.002)}
\pF{cSLA}{(2015,0.017)(2030,0.015)(2045,0.012)(2060,0.008)(2075,0.004)(2090,0.002)(2100,0.0015)}
\pSLA{(2015,0.0198)(2020,0.0195)(2025,0.019)(2030,0.0183)(2035,0.0174)(2040,0.0163)(2045,0.015)(2050,0.0135)(2055,0.0118)(2060,0.0100)(2065,0.0083)(2070,0.0068)(2075,0.0054)(2080,0.0041)(2085,0.003)(2090,0.0021)(2095,0.0016)(2100,0.0015)}
\pRAD{(2015,0.014)(2016,0.012)(2017,0.0105)(2018,0.0095)(2020,0.0085)(2022,0.0075)(2024,0.0065)(2026,0.006)(2028,0.0055)(2030,0.005)(2034,0.0045)(2038,0.004)(2042,0.0036)(2046,0.0032)(2050,0.0028)(2055,0.0024)(2060,0.002)(2065,0.0016)(2070,0.0013)(2075,0.001)(2080,0.0008)(2085,0.0007)(2090,0.0006)(2095,0.0005)(2100,0.0005)}
\pGLO{(2015,0.0055)(2017,0.006)(2019,0.005)(2022,0.0048)(2025,0.0045)(2028,0.004)(2031,0.0038)(2034,0.0035)(2037,0.0032)(2040,0.003)(2043,0.0026)(2046,0.0024)(2049,0.002)(2052,0.0019)(2055,0.0016)(2058,0.0013)(2061,0.0011)(2064,0.0012)(2067,0.0008)(2070,0.0007)(2075,0.0005)(2080,0.0004)(2085,0.0003)(2090,0.0003)(2100,0.0003)}
\pMAR{(2015,0.005)(2018,0.0046)(2021,0.0043)(2024,0.004)(2027,0.0037)(2030,0.0034)(2034,0.003)(2038,0.0027)(2042,0.0024)(2046,0.0021)(2050,0.0019)(2055,0.0016)(2060,0.0013)(2065,0.0011)(2070,0.0009)(2075,0.0007)(2080,0.0006)(2085,0.0005)(2090,0.0004)(2100,0.0004)}
\end{axis}
\begin{axis}[panel, at={(559pt,-266pt)}, title={Scandinavia}, ymax=0.026, ytick={0,0.01,0.02}]
\pF{fBlue}{(2015,0.001)(2018,0.012)(2021,0.002)(2024,0.016)(2027,0.001)(2030,0.018)(2033,0.002)(2036,0.014)(2039,0.001)(2042,0.012)(2045,0.002)(2048,0.011)(2051,0.001)(2054,0.009)(2057,0.001)(2060,0.01)(2063,0.0)(2066,0.008)(2069,0.001)(2072,0.007)(2075,0.0)(2078,0.006)(2081,0.0)(2084,0.006)(2087,0.0)(2090,0.005)(2093,0.0)(2096,0.004)(2099,0.0)}
\pSLA{(2015,0.006)(2025,0.0065)(2035,0.007)(2045,0.0065)(2055,0.0058)(2065,0.0051)(2075,0.0045)(2085,0.0038)(2095,0.0033)(2100,0.0033)}
\pRAD{(2015,0.006)(2018,0.005)(2021,0.006)(2024,0.0058)(2027,0.0062)(2030,0.006)(2033,0.0058)(2036,0.0065)(2039,0.0068)(2042,0.006)(2045,0.0058)(2050,0.0054)(2055,0.005)(2060,0.0046)(2065,0.0042)(2070,0.0038)(2075,0.0034)(2080,0.003)(2085,0.0027)(2090,0.0023)(2095,0.002)(2100,0.0019)}
\pGLO{(2015,0.0065)(2017,0.006)(2019,0.0058)(2021,0.0065)(2023,0.0062)(2025,0.007)(2027,0.0075)(2029,0.0068)(2031,0.0062)(2033,0.0058)(2035,0.0065)(2037,0.007)(2039,0.0066)(2041,0.006)(2043,0.0055)(2045,0.0052)(2047,0.0055)(2050,0.005)(2053,0.0046)(2056,0.0044)(2059,0.0038)(2062,0.004)(2065,0.0033)(2068,0.0032)(2071,0.0028)(2074,0.0027)(2077,0.0023)(2080,0.0022)(2083,0.0018)(2086,0.0019)(2089,0.0015)(2092,0.0014)(2095,0.0012)(2100,0.0012)}
\pMAR{(2015,0.0055)(2016,0.0035)(2017,0.003)(2018,0.0045)(2020,0.0052)(2022,0.0058)(2024,0.0055)(2026,0.006)(2028,0.0058)(2030,0.006)(2032,0.0055)(2034,0.006)(2036,0.0068)(2038,0.0062)(2040,0.006)(2043,0.0056)(2046,0.0052)(2049,0.005)(2052,0.0047)(2055,0.0045)(2058,0.0042)(2061,0.004)(2064,0.0037)(2067,0.0035)(2070,0.0032)(2073,0.003)(2076,0.0028)(2079,0.0026)(2082,0.0024)(2085,0.0022)(2088,0.002)(2091,0.0018)(2094,0.0016)(2097,0.0018)(2100,0.0017)}
\end{axis}
% ---------------- Row 4
\begin{axis}[panel, firstcol, bottomrow, at={(40pt,-391pt)}, title={North Asia}, ymax=0.02, ytick={0,0.01,0.02},
  legend style={at={(0.975,0.94)}, anchor=north east, font=\fontsize{9.6}{10}\selectfont, draw=black!70, line width=0.5pt, inner sep=1.2pt, row sep=-0.8pt, cells={anchor=west}},
  legend image code/.code={\draw[#1,line width=2.5pt] (0pt,0pt) -- (5.5pt,0pt);}]
\addlegendimage{cSLA}\addlegendentry{SLA2012}
\addlegendimage{cMAR}\addlegendentry{MAR2012}
\addlegendimage{cRAD}\addlegendentry{RAD2014}
\addlegendimage{cGLO}\addlegendentry{GLoGEM}
\pF{fCyan}{(2015,0.006)(2018,0.014)(2021,0.007)(2024,0.013)(2027,0.005)(2030,0.012)(2033,0.006)(2036,0.011)(2039,0.004)(2042,0.01)(2045,0.004)(2048,0.009)(2051,0.003)(2054,0.008)(2057,0.003)(2060,0.007)(2063,0.002)(2066,0.006)(2069,0.002)(2072,0.005)(2075,0.001)(2078,0.004)(2081,0.001)(2084,0.004)(2087,0.0)(2090,0.003)(2093,0.0)(2096,0.003)(2099,0.0)}
\pRAD{(2015,0.0113)(2017,0.0108)(2019,0.0104)(2021,0.0102)(2023,0.0096)(2025,0.0095)(2027,0.009)(2029,0.0091)(2031,0.0086)(2033,0.0084)(2035,0.0079)(2037,0.0081)(2039,0.0075)(2041,0.0073)(2043,0.0069)(2045,0.0071)(2047,0.0065)(2049,0.0063)(2051,0.006)(2053,0.0061)(2055,0.0055)(2057,0.0057)(2059,0.0052)(2061,0.0049)(2063,0.0046)(2065,0.0043)(2067,0.0041)(2069,0.0037)(2071,0.0035)(2073,0.0031)(2075,0.0029)(2077,0.0026)(2079,0.0024)(2081,0.0021)(2083,0.0019)(2085,0.0017)(2088,0.0016)(2091,0.0014)(2094,0.0012)(2097,0.0012)(2100,0.0013)}
\pSLA{(2015,0.0037)(2025,0.0041)(2035,0.0044)(2045,0.0045)(2055,0.0043)(2065,0.0039)(2075,0.0034)(2085,0.003)(2095,0.0027)(2100,0.0027)}
\pGLO{(2015,0.0045)(2017,0.0048)(2019,0.0044)(2021,0.005)(2023,0.0047)(2025,0.0055)(2027,0.006)(2029,0.0049)(2031,0.0045)(2033,0.005)(2035,0.0042)(2037,0.0045)(2039,0.0038)(2041,0.004)(2043,0.0034)(2045,0.0036)(2047,0.003)(2049,0.0032)(2051,0.0027)(2053,0.003)(2055,0.0024)(2057,0.0026)(2059,0.0021)(2061,0.0023)(2063,0.0019)(2065,0.002)(2067,0.0016)(2069,0.0017)(2071,0.0014)(2074,0.0013)(2077,0.0011)(2080,0.001)(2083,0.0009)(2086,0.0008)(2089,0.0007)(2092,0.0006)(2095,0.0005)(2100,0.0005)}
\pMAR{(2015,0.0013)(2020,0.0014)(2025,0.0013)(2030,0.0015)(2035,0.0014)(2040,0.0016)(2045,0.0015)(2050,0.0015)(2055,0.0014)(2060,0.0013)(2065,0.0012)(2070,0.0012)(2075,0.0011)(2080,0.001)(2085,0.001)(2090,0.0009)(2095,0.0008)(2100,0.0008)}
\end{axis}
\begin{axis}[panel, bottomrow, at={(169.5pt,-391pt)}, title={Central Europe}, ymax=0.02, ytick={0,0.01,0.02}]
\pF{fBlue}{(2015,0.001)(2018,0.011)(2021,0.002)(2024,0.012)(2027,0.001)(2030,0.01)(2033,0.001)(2036,0.009)(2039,0.0)(2042,0.008)(2045,0.001)(2048,0.007)(2051,0.0)(2054,0.006)(2057,0.0)(2060,0.005)(2063,0.0)(2066,0.005)(2069,0.0)(2072,0.004)(2075,0.0)(2078,0.004)(2081,0.0)(2084,0.003)(2087,0.0)(2090,0.003)(2093,0.0)(2096,0.002)(2099,0.0)}
\pSLA{(2015,0.0075)(2025,0.0073)(2035,0.0068)(2045,0.006)(2055,0.0051)(2065,0.0042)(2075,0.0033)(2085,0.0025)(2093,0.002)(2100,0.0021)}
\pRAD{(2015,0.006)(2018,0.0055)(2021,0.005)(2024,0.0055)(2027,0.0065)(2028,0.0075)(2030,0.005)(2033,0.0045)(2036,0.0042)(2040,0.0038)(2044,0.0034)(2048,0.003)(2052,0.0027)(2056,0.0024)(2060,0.0021)(2065,0.0018)(2070,0.0015)(2075,0.0013)(2080,0.0011)(2085,0.0009)(2090,0.0008)(2095,0.0007)(2100,0.0006)}
\pGLO{(2015,0.0078)(2017,0.0062)(2019,0.0068)(2021,0.0058)(2023,0.0063)(2025,0.0055)(2027,0.006)(2029,0.005)(2031,0.0048)(2033,0.0045)(2035,0.0042)(2037,0.0044)(2039,0.0038)(2041,0.004)(2043,0.0035)(2045,0.0036)(2047,0.0032)(2049,0.0033)(2051,0.0029)(2053,0.003)(2055,0.0027)(2057,0.0026)(2059,0.0023)(2061,0.0024)(2063,0.002)(2065,0.0021)(2067,0.0018)(2070,0.0017)(2073,0.0015)(2076,0.0014)(2079,0.0012)(2082,0.0011)(2085,0.001)(2088,0.0009)(2091,0.0008)(2094,0.0007)(2097,0.0007)(2100,0.0006)}
\pMAR{(2015,0.0053)(2017,0.0042)(2019,0.005)(2021,0.0038)(2023,0.0045)(2025,0.004)(2027,0.0044)(2028,0.0068)(2029,0.0035)(2031,0.0038)(2033,0.0032)(2035,0.0035)(2037,0.0029)(2039,0.0031)(2041,0.0027)(2043,0.0029)(2045,0.0025)(2047,0.0026)(2049,0.0022)(2051,0.0023)(2053,0.002)(2055,0.0021)(2057,0.0018)(2059,0.0019)(2061,0.0016)(2063,0.0017)(2065,0.0014)(2067,0.0015)(2069,0.0012)(2071,0.0013)(2073,0.0011)(2075,0.0012)(2077,0.0009)(2079,0.001)(2081,0.0008)(2083,0.0009)(2085,0.0007)(2087,0.0008)(2089,0.0006)(2091,0.0007)(2093,0.0005)(2095,0.0006)(2097,0.0004)(2100,0.0005)}
\end{axis}
\begin{axis}[panel, bottomrow, at={(299pt,-391pt)}, title={New Zealand}, ymax=0.01, ytick={0,0.01},
  xlabel={Years}, xlabel style={at={(axis description cs:0.5,0)}, anchor=base, yshift=-29pt, font=\fontsize{12}{14}\selectfont, text=black!80}]
\pF{fRed}{(2015,0.0)(2018,0.006)(2021,0.0)(2024,0.008)(2027,0.0)(2030,0.006)(2033,0.0)(2036,0.007)(2039,0.0)(2042,0.005)(2045,0.0)(2048,0.006)(2051,0.0)(2054,0.005)(2057,0.0)(2060,0.005)(2063,0.0)(2066,0.004)(2069,0.0)(2072,0.004)(2075,0.0)(2078,0.004)(2081,0.0)(2084,0.003)(2087,0.0)(2090,0.003)(2093,0.0)(2096,0.003)(2099,0.0)}
\pSLA{(2015,0.0025)(2025,0.0023)(2035,0.002)(2045,0.0018)(2055,0.0017)(2065,0.0016)(2075,0.0015)(2085,0.0013)(2100,0.0012)}
\pRAD{(2015,0.001)(2020,0.0008)(2025,0.0012)(2030,0.0003)(2035,0.0008)(2045,0.0012)(2055,0.0011)(2065,0.001)(2075,0.0008)(2085,0.0007)(2100,0.0005)}
\pGLO{(2015,0.002)(2020,0.0015)(2025,0.003)(2028,0.0035)(2030,0.002)(2035,0.0025)(2040,0.002)(2045,0.0018)(2050,0.0022)(2055,0.002)(2060,0.0022)(2065,0.0018)(2070,0.002)(2075,0.0015)(2080,0.0012)(2085,0.0014)(2090,0.001)(2093,0.0004)(2096,0.0012)(2100,0.0005)}
\pMAR{(2015,0.0014)(2025,0.0015)(2035,0.0014)(2045,0.0013)(2055,0.0011)(2065,0.001)(2075,0.0009)(2085,0.0008)(2095,0.0005)(2100,0.0004)}
\end{axis}
\begin{axis}[panel, bottomrow, at={(429pt,-391pt)}, title={Caucasus}, ymax=0.01, ytick={0,0.01}]
\pF{fBlue}{(2015,0.001)(2018,0.007)(2021,0.0)(2024,0.006)(2027,0.0)(2030,0.005)(2033,0.0)(2036,0.005)(2039,0.0)(2042,0.004)(2045,0.0)(2048,0.004)(2051,0.0)(2054,0.004)(2057,0.0)(2060,0.003)(2063,0.0)(2066,0.003)(2069,0.0)(2072,0.003)(2075,0.0)(2078,0.002)(2081,0.0)(2084,0.002)(2087,0.0)(2090,0.002)(2093,0.0)(2096,0.002)(2099,0.0)}
\pSLA{(2015,0.0027)(2022,0.0027)(2030,0.0027)(2040,0.0026)(2050,0.0024)(2060,0.0021)(2070,0.0019)(2080,0.0016)(2090,0.0014)(2100,0.0014)}
\pRAD{(2015,0.0025)(2016,0.003)(2018,0.0022)(2020,0.0018)(2023,0.0016)(2026,0.0015)(2030,0.0014)(2035,0.0013)(2040,0.0012)(2045,0.0011)(2050,0.001)(2055,0.0009)(2060,0.0008)(2065,0.0007)(2070,0.0006)(2075,0.0005)(2080,0.0005)(2085,0.0004)(2090,0.0004)(2100,0.0003)}
\pGLO{(2015,0.003)(2016,0.0034)(2017,0.004)(2018,0.0042)(2019,0.0028)(2021,0.0023)(2023,0.0025)(2025,0.0021)(2027,0.0024)(2029,0.002)(2031,0.0025)(2033,0.0019)(2035,0.0022)(2037,0.0018)(2039,0.0021)(2041,0.0017)(2043,0.0019)(2045,0.0015)(2047,0.0017)(2049,0.0014)(2051,0.0016)(2053,0.0012)(2055,0.0014)(2057,0.0011)(2059,0.0013)(2061,0.001)(2063,0.0012)(2065,0.0009)(2067,0.0011)(2069,0.0008)(2071,0.001)(2073,0.0007)(2075,0.0008)(2077,0.0005)(2079,0.0007)(2081,0.0004)(2083,0.0006)(2085,0.0003)(2087,0.0005)(2089,0.0003)(2091,0.0004)(2093,0.0002)(2095,0.0003)(2097,0.0002)(2100,0.0003)}
\pMAR{(2015,0.0015)(2016,0.0022)(2017,0.0027)(2018,0.0022)(2020,0.0019)(2022,0.0018)(2024,0.0019)(2026,0.0017)(2028,0.0018)(2030,0.0016)(2032,0.0018)(2034,0.0015)(2036,0.0016)(2038,0.0014)(2040,0.0015)(2042,0.0013)(2044,0.0014)(2046,0.0012)(2048,0.0012)(2050,0.0011)(2053,0.001)(2056,0.001)(2059,0.0009)(2062,0.0008)(2065,0.0008)(2068,0.0007)(2071,0.0007)(2074,0.0006)(2077,0.0005)(2080,0.0005)(2083,0.0004)(2086,0.0004)(2089,0.0004)(2092,0.0003)(2095,0.0003)(2100,0.0003)}
\end{axis}
\begin{axis}[panel, bottomrow, at={(559pt,-391pt)}, title={Global excl. A+G}, ymax=3.15, ytick={0,1,2,3}]
\pF{fCyan}{(2015,0.5)(2018,1.8)(2021,0.6)(2024,2.0)(2027,0.5)(2030,2.1)(2033,0.6)(2036,2.2)(2039,0.5)(2042,2.0)(2045,0.6)(2048,2.1)(2051,0.5)(2054,1.9)(2057,0.6)(2060,2.0)(2063,0.5)(2066,1.9)(2069,0.6)(2072,1.8)(2075,0.5)(2078,1.8)(2081,0.6)(2084,1.7)(2087,0.5)(2090,1.7)(2093,0.5)(2096,1.6)(2099,0.5)}
\pSLA{(2015,0.8)(2025,0.93)(2035,1.05)(2045,1.15)(2055,1.24)(2065,1.32)(2075,1.39)(2085,1.45)(2095,1.5)(2100,1.5)}
\pRAD{(2015,1.28)(2017,1.42)(2019,1.48)(2021,1.53)(2023,1.5)(2025,1.56)(2027,1.53)(2029,1.58)(2031,1.55)(2033,1.6)(2035,1.58)(2037,1.63)(2039,1.65)(2041,1.6)(2043,1.64)(2045,1.62)(2047,1.67)(2049,1.63)(2051,1.66)(2053,1.62)(2055,1.65)(2057,1.63)(2059,1.66)(2061,1.62)(2063,1.64)(2065,1.6)(2067,1.63)(2069,1.59)(2071,1.62)(2073,1.58)(2075,1.6)(2077,1.55)(2079,1.58)(2081,1.52)(2083,1.5)(2085,1.46)(2087,1.42)(2089,1.37)(2091,1.4)(2093,1.33)(2095,1.3)(2097,1.26)(2100,1.22)}
\pGLO{(2015,0.85)(2017,0.78)(2019,0.7)(2021,0.88)(2023,0.95)(2025,0.98)(2027,1.02)(2029,1.05)(2031,1.08)(2033,1.1)(2035,1.13)(2037,1.15)(2039,1.18)(2041,1.2)(2043,1.26)(2045,1.24)(2047,1.28)(2049,1.25)(2051,1.27)(2053,1.24)(2055,1.26)(2057,1.23)(2059,1.25)(2061,1.22)(2063,1.24)(2065,1.21)(2067,1.23)(2069,1.2)(2071,1.22)(2073,1.19)(2075,1.21)(2077,1.18)(2079,1.2)(2081,1.16)(2083,1.14)(2085,1.1)(2087,1.08)(2089,1.05)(2091,1.03)(2093,1.0)(2095,0.98)(2097,1.0)(2100,0.97)}
\pMAR{(2015,0.8)(2017,0.88)(2019,0.93)(2021,0.96)(2023,0.99)(2025,1.0)(2027,1.02)(2029,1.04)(2031,1.05)(2033,1.07)(2035,1.08)(2037,1.1)(2039,1.12)(2041,1.13)(2043,1.15)(2045,1.16)(2047,1.17)(2049,1.16)(2051,1.17)(2053,1.15)(2055,1.16)(2057,1.14)(2059,1.15)(2061,1.12)(2063,1.13)(2065,1.1)(2067,1.1)(2069,1.08)(2071,1.07)(2073,1.05)(2075,1.04)(2077,1.02)(2079,1.0)(2081,0.99)(2083,0.97)(2085,0.96)(2087,0.94)(2089,0.92)(2091,0.9)(2093,0.89)(2095,0.87)(2097,0.86)(2100,0.85)}
\end{axis}
\end{tikzpicture}
\end{document}
